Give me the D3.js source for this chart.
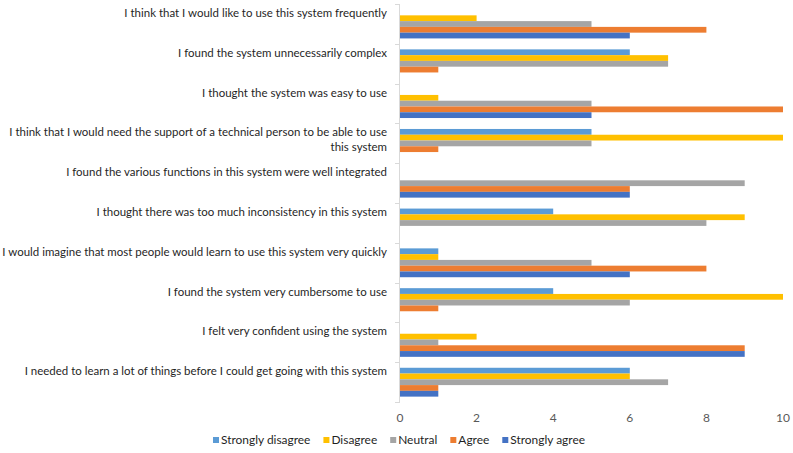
<!DOCTYPE html>
<html><head><meta charset="utf-8">
<script src="https://cdn.jsdelivr.net/npm/d3@7"></script>
<style>body{margin:0;background:#fff}svg{display:block}</style>
</head><body><svg id="c" width="793" height="453"></svg>
<script>
const categories = [
  ["I think that I would like to use this system frequently"],
  ["I found the system unnecessarily complex"],
  ["I thought the system was easy to use"],
  ["I think that I would need the support of a technical person to be able to use", "this system"],
  ["I found the various functions in this system were well integrated"],
  ["I thought there was too much inconsistency in this system"],
  ["I would imagine that most people would learn to use this system very quickly"],
  ["I found the system very cumbersome to use"],
  ["I felt very confident using the system"],
  ["I needed to learn a lot of things before I could get going with this system"]
];
const seriesNames = ["Strongly disagree", "Disagree", "Neutral", "Agree", "Strongly agree"];
const stronglyDisagree = [0, 6, 0, 5, 0, 4, 1, 4, 0, 6];
const disagree         = [2, 7, 1, 10, 0, 9, 1, 10, 2, 6];
const neutral          = [5, 7, 5, 5, 9, 8, 5, 6, 1, 7];
const agree            = [8, 1, 10, 1, 6, 0, 8, 1, 9, 1];
const stronglyAgree    = [6, 0, 5, 0, 6, 0, 6, 0, 9, 1];
const xTicks = [0, 2, 4, 6, 8, 10];
const colors = ["#5B9BD5", "#FFC000", "#A5A5A5", "#ED7D31", "#4472C4"];

const seriesValues = [stronglyDisagree, disagree, neutral, agree, stronglyAgree];
const svg = d3.select("#c");
const font = "Lato, 'Open Sans', sans-serif";

const x = d3.scaleLinear().domain([0, 10]).range([400, 783]);
const y0 = d3.scaleBand().domain(d3.range(categories.length)).range([4, 402]).padding(0);
const bw = y0.bandwidth();
const y1 = d3.scaleBand().domain(d3.range(seriesNames.length)).range([bw * 0.14, bw * 0.865]).padding(0);

// bars
const g = svg.append("g");
categories.forEach((c, i) => {
  const grp = g.append("g").attr("transform", `translate(0,${y0(i)})`);
  seriesValues.forEach((vals, s) => {
    if (vals[i] <= 0) return;
    grp.append("rect")
      .attr("x", x(0))
      .attr("y", y1(s))
      .attr("width", x(vals[i]) - x(0))
      .attr("height", y1.bandwidth())
      .attr("fill", colors[s]);
  });
});

// vertical axis line + ticks
const axisColor = "#d9d9d9";
svg.append("line").attr("x1", 399.5).attr("x2", 399.5).attr("y1", 4).attr("y2", 402)
  .attr("stroke", axisColor).attr("stroke-width", 1);
d3.range(categories.length + 1).forEach(i => {
  const yy = Math.round(i < categories.length ? y0(i) : 402) + 0.5;
  svg.append("line").attr("x1", 395).attr("x2", 400).attr("y1", yy).attr("y2", yy)
    .attr("stroke", axisColor);
});

// category labels
const labels = svg.append("g").attr("font-family", font).attr("fill", "#1f1f1f").attr("text-anchor", "end");
let fs = 12;
const tmp = labels.append("text").attr("font-size", fs).text(categories[6][0]);
const w = tmp.node().getComputedTextLength();
tmp.remove();
fs = fs * 385 / w;
categories.forEach((lines, i) => {
  lines.forEach((ln, k) => {
    labels.append("text")
      .attr("x", 387)
      .attr("y", y0(i) + 9 + k * 15)
      .attr("dy", "0.35em")
      .attr("font-size", fs)
      .text(ln);
  });
});

// x axis tick labels
const xa = svg.append("g").attr("font-family", font).attr("font-size", 12).attr("fill", "#595959").attr("text-anchor", "middle");
xTicks.forEach(t => {
  xa.append("text").attr("x", x(t)).attr("y", 418).attr("dy", "0.35em").text(t);
});

// legend (measured, centered)
const lg = svg.append("g").attr("font-family", font).attr("font-size", fs * 1.04).attr("fill", "#1f1f1f");
const items = seriesNames.map((n, s) => {
  const it = lg.append("g");
  it.append("rect").attr("x", 0).attr("y", -3).attr("width", 6).attr("height", 6).attr("fill", colors[s]);
  const t = it.append("text").attr("x", 8).attr("y", 0).attr("dy", "0.35em").text(n);
  return { it, w: 8 + t.node().getComputedTextLength() };
});
const gap = 13;
const total = d3.sum(items, d => d.w) + gap * (items.length - 1);
let cx = 399 - total / 2;
items.forEach(d => {
  d.it.attr("transform", `translate(${cx},440)`);
  cx += d.w + gap;
});
</script></body></html>
